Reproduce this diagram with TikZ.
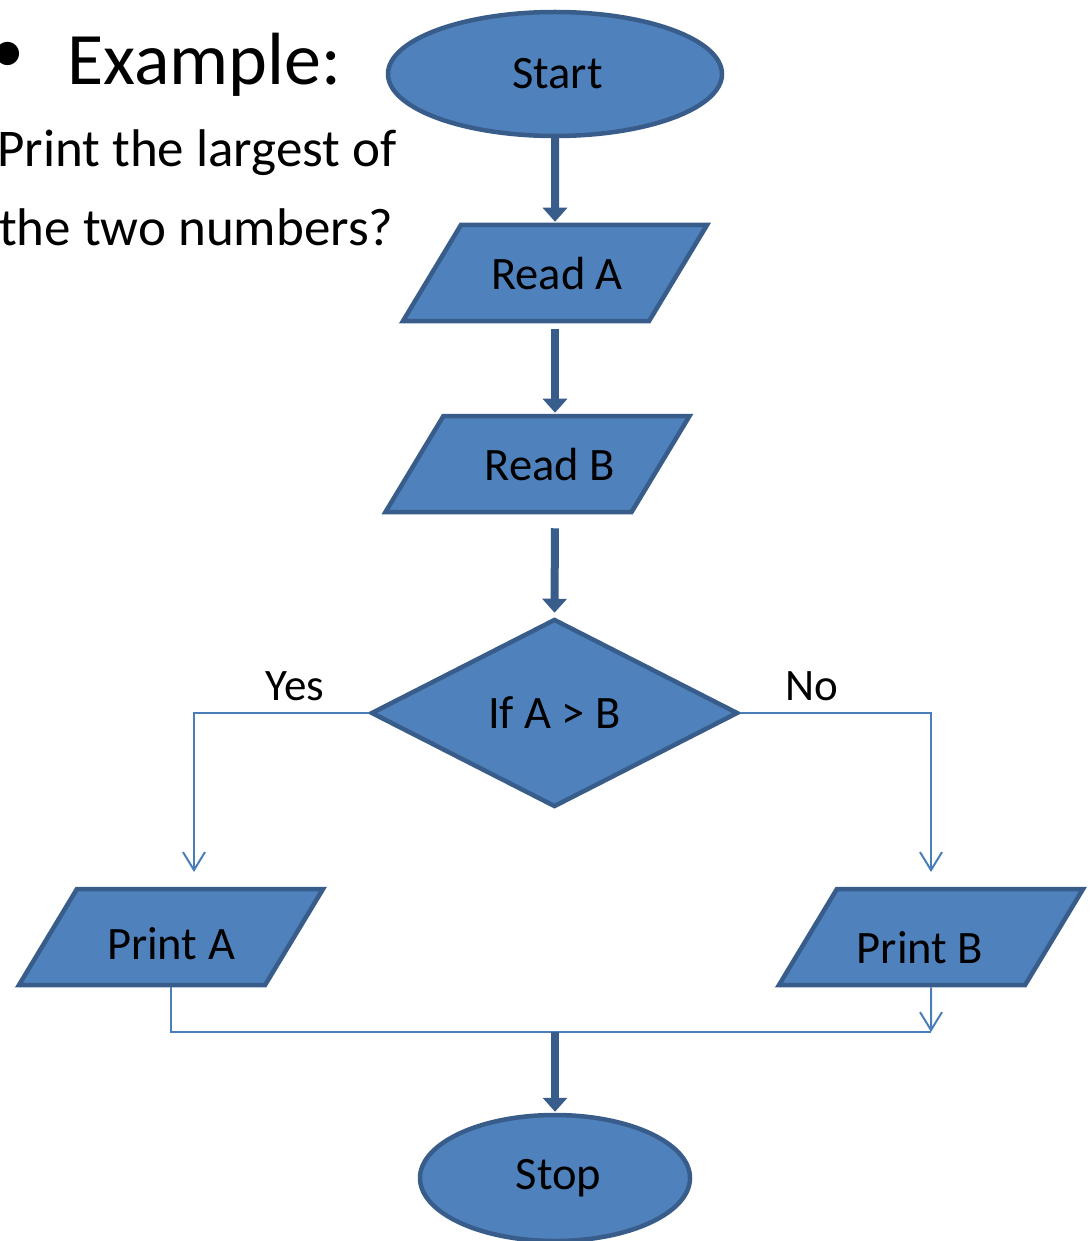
\documentclass[tikz,border=0pt]{standalone}
\usepackage{fontspec}
\setmainfont{Carlito}
\usetikzlibrary{shapes.geometric,arrows.meta,calc}
\definecolor{fillb}{HTML}{4F81BD}
\definecolor{lineb}{HTML}{385D8A}
\definecolor{conn}{HTML}{4A7EBB}
\begin{document}
\begin{tikzpicture}[x=1pt,y=-1pt,
  shp/.style={draw=lineb, fill=fillb, line width=4.5pt, inner sep=0pt, font=\fontsize{46.5}{50}\selectfont},
  term/.style={shp, ellipse},
  io/.style={shp, trapezium, trapezium left angle=58.9, trapezium right angle=121.1,
    trapezium stretches body, text height=32pt, text depth=0pt, inner xsep=0pt, inner ysep=32pt,
    minimum height=96pt, minimum width=304pt},
  dec/.style={shp, diamond, aspect=1.93, minimum width=367pt, minimum height=188pt},
  bigarrow/.style={draw=lineb, line width=8pt, -{Triangle[width=24pt,length=14pt]}},
  thinline/.style={draw=conn, line width=2pt},
  thinarrow/.style={thinline, -{Straight Barb[width=22pt,length=18pt]}},
  lbl/.style={inner sep=0pt, font=\fontsize{45}{50}\selectfont},
]
\useasboundingbox (0,0) rectangle (1089,1241);

% heading text
\node[anchor=center, inner sep=0pt, font=\fontsize{66}{70}\selectfont] (bul) at (8,57) {•};
\node[anchor=base west, inner sep=0pt, font=\fontsize{74}{80}\selectfont] (ex) at (67,85) {Example:};
\node[anchor=base west, inner sep=0pt, font=\fontsize{53}{60}\selectfont] (q1) at (-3,167) {Print the largest of};
\node[anchor=base west, inner sep=0pt, font=\fontsize{53}{60}\selectfont] (q2) at (-1,245) {the two numbers?};

% shapes
\node[term, minimum width=334pt, minimum height=124pt] (start) at (555,74) {\hspace*{5pt}Start};
\node[io] (ra) at (555,273) {\hspace*{4pt}Read A};
\node[io] (rb) at (537.5,464) {\hspace*{25pt}Read B};
\node[dec] (dec) at (554.5,713) {If A > B};
\node[io] (pa) at (171,937) {\raisebox{-6pt}{Print A}};
\node[io] (pb) at (931,937) {\raisebox{-10pt}{Print B\hspace*{22pt}}};
\node[term, minimum width=270pt, minimum height=126pt] (stop) at (555,1178) {\hspace*{7pt}Stop};

% labels
\node[lbl] (yes) at (295,686) {Yes};
\node[lbl] (no) at (812,686) {No};

% connectors
\coordinate (ya) at (194,872);
\coordinate (nb) at (931,872);
\coordinate (j) at (931,1032);

\draw[bigarrow, shorten >=1pt] (start.south) -- (ra.north);
\draw[bigarrow, shorten <=6pt, shorten >=1pt] (ra.south) -- (ra.south |- rb.north);
\draw[bigarrow, shorten <=14pt, shorten >=4pt] (rb.south -| ra.south) -- (dec.north);

\draw[thinarrow] (dec.west) -| (ya);
\draw[thinarrow] (dec.east) -| (nb);

\draw[thinline] (pa.south) |- (j);
\draw[thinarrow] (pb.south) -- (j);
\draw[bigarrow, shorten >=1pt] (stop.north |- j) -- (stop.north);
\end{tikzpicture}
\end{document}
